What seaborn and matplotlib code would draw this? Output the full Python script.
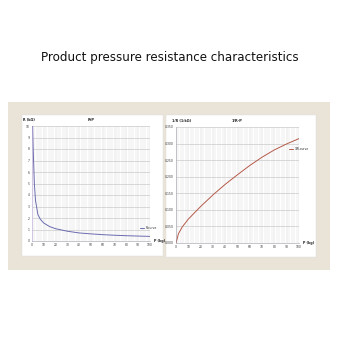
import matplotlib
matplotlib.use("Agg")
import matplotlib.pyplot as plt
import seaborn as sns
import pandas as pd
import numpy as np
from matplotlib.patches import Rectangle
from matplotlib.ticker import MultipleLocator

sns.set_theme(style="white")
plt.rcParams['font.family'] = ['DejaVu Sans']

# Data
p_left = [0.5, 1, 2, 3, 5, 7, 10, 15, 20, 30, 40, 50, 60, 70, 80, 90, 100]
r_left = [10.0, 8.0, 5.0, 3.5, 2.3, 1.9, 1.56, 1.25, 1.07, 0.85, 0.70, 0.62, 0.55, 0.50, 0.46, 0.43, 0.40]
p_right = [0, 2, 5, 10, 20, 30, 40, 50, 60, 70, 80, 90, 100]
g_right = [0.0, 0.028, 0.048, 0.072, 0.11, 0.145, 0.177, 0.206, 0.234, 0.259, 0.281, 0.299, 0.315]
left_yticks = list(range(0, 11))
right_yticks = [0.0, 0.05, 0.10, 0.15, 0.20, 0.25, 0.30, 0.35]
xticks = list(range(0, 101, 10))

W = H = 340
fig = plt.figure(figsize=(3.4, 3.4), dpi=100, facecolor="white")

def fx(x): return x / W
def fy(y): return 1 - y / H

fig.text(0.5, fy(57), "Product pressure resistance characteristics",
         ha="center", va="center", fontsize=8.6, color="#111111")

# beige frame
fig.patches.append(Rectangle((fx(8), fy(270)), fx(322), 168 / H, transform=fig.transFigure,
                             facecolor="#e9e3d8", edgecolor="none", zorder=-2))
# white panels
fig.patches.append(Rectangle((fx(22), fy(256)), fx(141), 141 / H, transform=fig.transFigure,
                             facecolor="white", edgecolor="#dddddd", lw=0.3, zorder=-1))
fig.patches.append(Rectangle((fx(166), fy(257)), fx(150), 142 / H, transform=fig.transFigure,
                             facecolor="white", edgecolor="#dddddd", lw=0.3, zorder=-1))

def style_axes(ax, xticks, yticks, ymax):
    ax.set_zorder(3)
    ax.set_facecolor("white")
    ax.set_xlim(0, 100)
    ax.set_ylim(0, ymax)
    ax.xaxis.set_minor_locator(MultipleLocator(2))
    ax.set_xticks(xticks)
    ax.set_yticks(yticks)
    ax.grid(which="minor", axis="x", color="#d6d6d6", lw=0.3)
    ax.grid(which="major", axis="x", color="#cccccc", lw=0.35)
    ax.grid(which="major", axis="y", color="#c0c0c0", lw=0.4)
    for s in ["top", "right"]:
        ax.spines[s].set_visible(False)
    for s in ["left", "bottom"]:
        ax.spines[s].set_color("#9a9aa8")
        ax.spines[s].set_linewidth(0.4)
    ax.tick_params(axis="both", which="both", labelsize=2.2, colors="#333333", length=0, pad=1.5)
    ax.set_xlabel("")
    ax.set_ylabel("")

# left chart
ax1 = fig.add_axes([fx(32), fy(241), 118 / W, 115 / H])
df1 = pd.DataFrame({"P": p_left, "R": r_left})
sns.lineplot(data=df1, x="P", y="R", ax=ax1, color="#6b6bb0", lw=0.7, label="R-curve")
style_axes(ax1, xticks, left_yticks, 10)
ax1.spines["left"].set_color("#b9a8d8")
ax1.set_xticklabels([str(v) for v in xticks])
ax1.set_yticklabels([str(v) for v in left_yticks])
ax1.legend(loc="lower right", bbox_to_anchor=(1.08, 0.07), fontsize=2.2, frameon=False,
           handlelength=1.2, handletextpad=0.4)
ax1.text(0.5, 1.055, "R-P", transform=ax1.transAxes, ha="center", va="center", fontsize=2.6,
         fontweight="bold", color="#222222")
ax1.text(-0.08, 1.055, "R (kΩ)", transform=ax1.transAxes, ha="left", va="center",
         fontsize=2.4, fontweight="bold", color="#222222")
ax1.text(1.03, 0.0, "P (kg)", transform=ax1.transAxes, ha="left", va="center",
         fontsize=2.4, fontweight="bold", color="#222222")

# right chart
ax2 = fig.add_axes([fx(176), fy(243), 123 / W, 116 / H])
df2 = pd.DataFrame({"P": p_right, "G": g_right})
sns.lineplot(data=df2, x="P", y="G", ax=ax2, color="#b55a4a", lw=0.7, label="1/R-curve")
style_axes(ax2, xticks, right_yticks, 0.35)
ax2.set_xticklabels([str(v) for v in xticks])
ax2.set_yticklabels([f"{v:.3f}" for v in right_yticks])
ax2.legend(loc="upper right", bbox_to_anchor=(1.1, 0.85), fontsize=2.2, frameon=False,
           handlelength=1.2, handletextpad=0.4)
ax2.text(0.5, 1.055, "1/R-P", transform=ax2.transAxes, ha="center", va="center", fontsize=2.6,
         fontweight="bold", color="#222222")
ax2.text(-0.03, 1.055, "1/R (1/kΩ)", transform=ax2.transAxes, ha="left", va="center",
         fontsize=2.4, fontweight="bold", color="#222222")
ax2.text(1.03, 0.0, "P (kg)", transform=ax2.transAxes, ha="left", va="center",
         fontsize=2.4, fontweight="bold", color="#222222")

fig.savefig("out.png", dpi=100, facecolor="white")
